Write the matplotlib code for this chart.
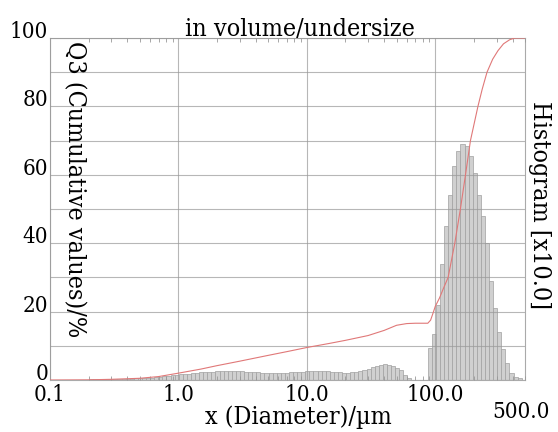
import numpy as np
import matplotlib
matplotlib.use("Agg")
import matplotlib.pyplot as plt
from matplotlib.ticker import LogLocator, NullFormatter

plt.rcParams['font.family'] = ['DejaVu Serif']
plt.rcParams['font.stretch'] = 'condensed'

# size channels (log spaced) and histogram heights (x10)
channel_log_start = 1.942
channel_log_step = 0.0318
hist_low = [0.2, 0.2, 0.3, 0.3, 0.3, 0.3, 0.3, 0.4, 0.4, 0.4,
            0.4, 0.5, 0.5, 0.6, 0.6, 0.7,
            0.8, 0.9, 1.1, 1.2, 1.4, 1.5,
            1.7, 1.8, 1.9, 2.0, 2.1, 2.2, 2.3, 2.4, 2.4, 2.5,
            2.5, 2.6, 2.6, 2.6, 2.5, 2.5, 2.4, 2.3, 2.2,
            2.2, 2.1, 2.1, 2.0, 2.0, 2.0, 2.1, 2.1,
            2.2, 2.3, 2.4, 2.4, 2.5, 2.5, 2.6, 2.6,
            2.6, 2.5, 2.4, 2.3, 2.2, 2.1,
            2.1, 2.2, 2.4, 2.6, 2.9,
            3.3, 3.7, 4.1, 4.4, 4.6,
            4.5, 4.1, 3.5, 2.8, 1.5,
            0.6, 0.1, 0.0, 0.0, 0.0]
hist_peak = [9.5, 13.5, 22, 34, 45, 54, 62.5, 67, 69, 68.5, 65.5, 60.5,
             54, 48, 40, 29, 21, 14, 9, 5, 2, 1, 0.5]
hist = hist_low + hist_peak

# cumulative undersize curve
cum_x = [0.1, 0.2, 0.3, 0.5, 0.7, 1.0, 1.5, 2, 3, 5, 7, 10, 15, 20, 30, 40,
         50, 60, 70, 87.5, 92, 96, 100, 108, 115, 126, 142, 157, 172, 188,
         215, 232, 253, 280, 308, 340, 380, 417, 500]
cum_y = [0, 0.05, 0.2, 0.5, 1.0, 2.0, 3.2, 4.2, 5.5, 7.2, 8.3, 9.5, 10.7,
         11.6, 13, 14.5, 16, 16.5, 16.6, 16.6, 17.5, 19.5, 21.5, 24, 26.5,
         30, 40, 50, 60, 70, 80, 85, 90, 93.8, 96.3, 98.3, 99.5, 100, 100]

x_ticks = [0.1, 1, 10, 100]
x_ticklabels = ['0.1', '1.0', '10.0', '100.0']
y_ticks = [0, 20, 40, 60, 80, 100]

k = np.arange(-len(hist_low), len(hist_peak) + 1)
edges = 10 ** (channel_log_start + channel_log_step * k)

fig = plt.figure(figsize=(5.58, 4.32), dpi=100)
ax = fig.add_axes([50/558, 1-380/432, 475/558, 342/432])

ax.bar(edges[:-1], hist, width=np.diff(edges), align='edge',
       color='#d0d0d0', edgecolor='#a0a0a0', linewidth=0.5, zorder=1)
ax.plot(cum_x, cum_y, color='#e07878', lw=0.8, zorder=4)

ax.set_xscale('log')
ax.set_xlim(0.1, 500)
ax.set_ylim(0, 100)

ax.set_xticks(x_ticks)
ax.set_xticklabels(x_ticklabels)
ax.xaxis.set_minor_locator(LogLocator(base=10, subs=np.arange(2, 10)))
ax.xaxis.set_minor_formatter(NullFormatter())
ax.set_yticks(y_ticks)
ax.set_yticks(range(10, 100, 20), minor=True)
ax.set_yticklabels([])

ax.set_axisbelow(False)
ax.grid(True, which='major', color='#999999', lw=0.8, alpha=0.7, zorder=3)
ax.grid(True, which='minor', axis='y', color='#999999', lw=0.8, alpha=0.7, zorder=3)

ax.tick_params(axis='x', which='major', length=0, labelsize=16, pad=3)
ax.tick_params(axis='x', which='minor', direction='in', length=3,
               color='#999999', top=True, bottom=True)
ax.tick_params(axis='y', which='both', length=0)

for v in y_ticks:
    ax.text(-0.004, v, str(v), transform=ax.get_yaxis_transform(),
            ha='right', va='baseline', fontsize=16)

for s in ax.spines.values():
    s.set_color('#aaaaaa')
    s.set_linewidth(0.8)

fig.text(300/558, 1-36/432, 'in volume/undersize', ha='center',
         va='baseline', fontsize=18)
ax.text(0.027, 0.99, 'Q3 (Cumulative values)/%', transform=ax.transAxes,
        ha='left', va='top', rotation=-90, fontsize=18)
fig.text(539/558, 1-205/432, 'Histogram [x10.0]', ha='center', va='center',
         rotation=-90, fontsize=18)
fig.text(298/558, 1-417/432, 'x (Diameter)/\u00b5m', ha='center', va='center',
         fontsize=18)
fig.text(521/558, 1-412/432, '500.0', ha='center', va='center', fontsize=16)

fig.savefig('out.png', dpi=100)
